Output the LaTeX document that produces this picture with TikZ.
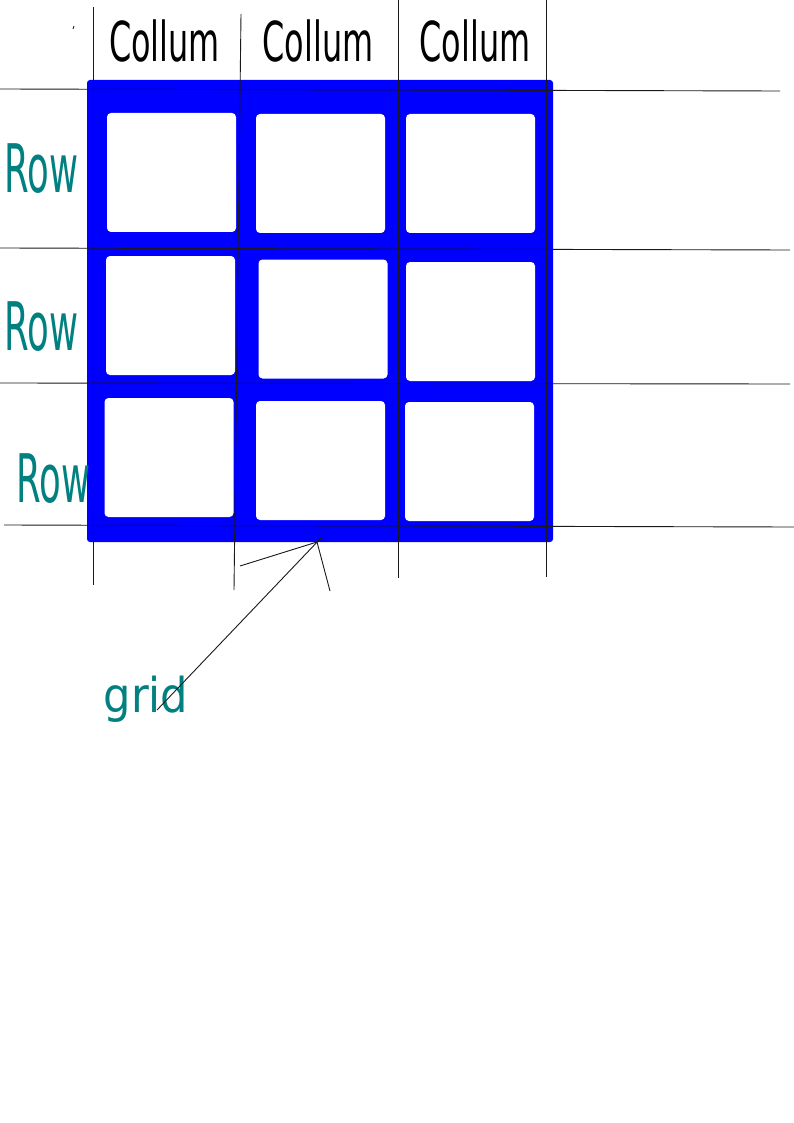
\documentclass[tikz,border=0pt]{standalone}
\usepackage{fontspec}
\setmainfont{DejaVu Sans}
\newfontfamily\collfont{DejaVu Sans}[FakeStretch=0.58]
\newfontfamily\rowfont{DejaVu Sans}[FakeStretch=0.53]
\newfontfamily\gridfont{DejaVu Sans}[FakeStretch=0.9]
\usetikzlibrary{positioning}
\definecolor{tealtext}{RGB}{0,128,128}

\begin{document}
\begin{tikzpicture}[
    x=1pt, y=-1pt,
    cell/.style={rectangle, fill=white, rounded corners=4pt, inner sep=0pt, minimum width=129pt, minimum height=119pt},
    colhead/.style={anchor=base, inner sep=0pt, font=\collfont\fontsize{55}{60}\selectfont},
    rowhead/.style={anchor=base west, inner sep=0pt, text=tealtext, font=\rowfont\fontsize{67}{72}\selectfont},
    rule/.style={line width=0.9pt, black!90}
]
\useasboundingbox (0,0) rectangle (794,1123);

% Grid frame
\fill[blue, rounded corners=3pt] (87,80) rectangle (553,542);

% Cells
\node[cell] (c11) at (171.5,172.5) {};
\node[cell] (c12) at (320.5,173.5) {};
\node[cell] (c13) at (470.5,173.5) {};
\node[cell] (c21) at (170.5,315.5) {};
\node[cell] (c22) at (323,319) {};
\node[cell] (c23) at (470.5,321.5) {};
\node[cell] (c31) at (169,457.5) {};
\node[cell] (c32) at (320.5,460.5) {};
\node[cell] (c33) at (469.5,461.5) {};

% Guide lines
\draw[rule] (0,89) -- (780,91);
\draw[rule] (0,248) -- (790,250);
\draw[rule] (0,383) -- (790,384);
\draw[rule] (4,525) -- (794,527);
\draw[rule] (93,7) -- (93,585);
\draw[rule] (241,14) -- (234,590);
\draw[rule] (398,0) -- (398,578);
\draw[rule] (546,0) -- (546,577);
\draw[rule] (73,29) -- (74,26);

% Headers
\node[colhead] (h1) at (164.5,62) {Collum};
\node[colhead] (h2) at (318,62) {Collum};
\node[colhead] (h3) at (475,62) {Collum};

\node[rowhead] (r1) at (4,193) {Row};
\node[rowhead] (r2) at (4,350) {Row};
\node[rowhead] (r3) at (16,502) {Row};

% Pointer
\node[anchor=base, inner sep=0pt, text=tealtext, font=\gridfont\fontsize{48}{52}\selectfont] (lbl) at (146,712) {grid};
\coordinate (tip) at (321,538);
\coordinate (tail) at (157,710);
\coordinate (barb1) at (240,566);
\coordinate (barb2) at (330,591);
\draw[rule] (tip) -- (tail);
\draw[rule] (317,542) -- (barb1);
\draw[rule] (317,542) -- (barb2);

\end{tikzpicture}
\end{document}
